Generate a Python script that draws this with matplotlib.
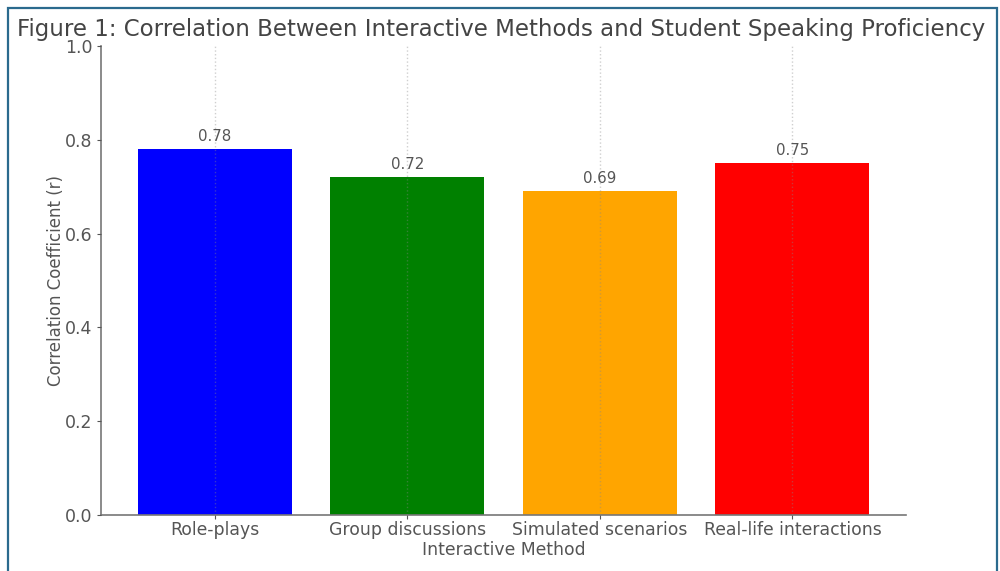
import matplotlib
matplotlib.use("Agg")
import matplotlib.pyplot as plt
from matplotlib.patches import Rectangle

# dane z wykresu
methods = ["Role-plays", "Group discussions", "Simulated scenarios", "Real-life interactions"]
correlations = [0.78, 0.72, 0.69, 0.75]
bar_colors = ["blue", "green", "orange", "red"]

txt = "#555555"

fig = plt.figure(figsize=(10, 5.71), dpi=100)
ax = fig.add_axes([0.101, 0.098, 0.805, 0.8214])

x = list(range(len(methods)))
ax.bar(x, correlations, color=bar_colors, width=0.8, zorder=2)
for xi, v in zip(x, correlations):
    ax.text(xi, v + 0.012, f"{v:.2f}", ha="center", va="bottom", fontsize=10.8, color=txt)

ax.set_xticks(x)
ax.set_xticklabels(methods, fontsize=12.4, color=txt)
ax.set_ylim(0, 1.0)
ax.set_yticks([0.0, 0.2, 0.4, 0.6, 0.8, 1.0])
ax.tick_params(axis="y", labelsize=12.5, colors=txt, length=3, pad=3)
ax.tick_params(axis="x", colors=txt, length=3, pad=1.5)
ax.grid(axis="x", linestyle=":", color="#888888", alpha=0.4, linewidth=1.0, zorder=3)
ax.set_axisbelow(False)

for s in ["top", "right"]:
    ax.spines[s].set_visible(False)
for s in ["left", "bottom"]:
    ax.spines[s].set_color("#777777")
    ax.spines[s].set_linewidth(1.2)

ax.set_ylabel("Correlation Coefficient (r)", fontsize=12, color=txt, labelpad=0)
ax.set_xlabel("Interactive Method", fontsize=12.4, color=txt, labelpad=1)

fig.text(0.5015, 0.949, "Figure 1: Correlation Between Interactive Methods and Student Speaking Proficiency",
         ha="center", va="center", fontsize=16.5, color="#444444")

# ramka wokol obrazka
fig.patches.append(Rectangle((0.008, -0.05), 0.989, 1.05 - 0.014, transform=fig.transFigure,
                             fill=False, edgecolor="#2b6a8e", linewidth=1.6))

fig.savefig("out.png", dpi=100)
